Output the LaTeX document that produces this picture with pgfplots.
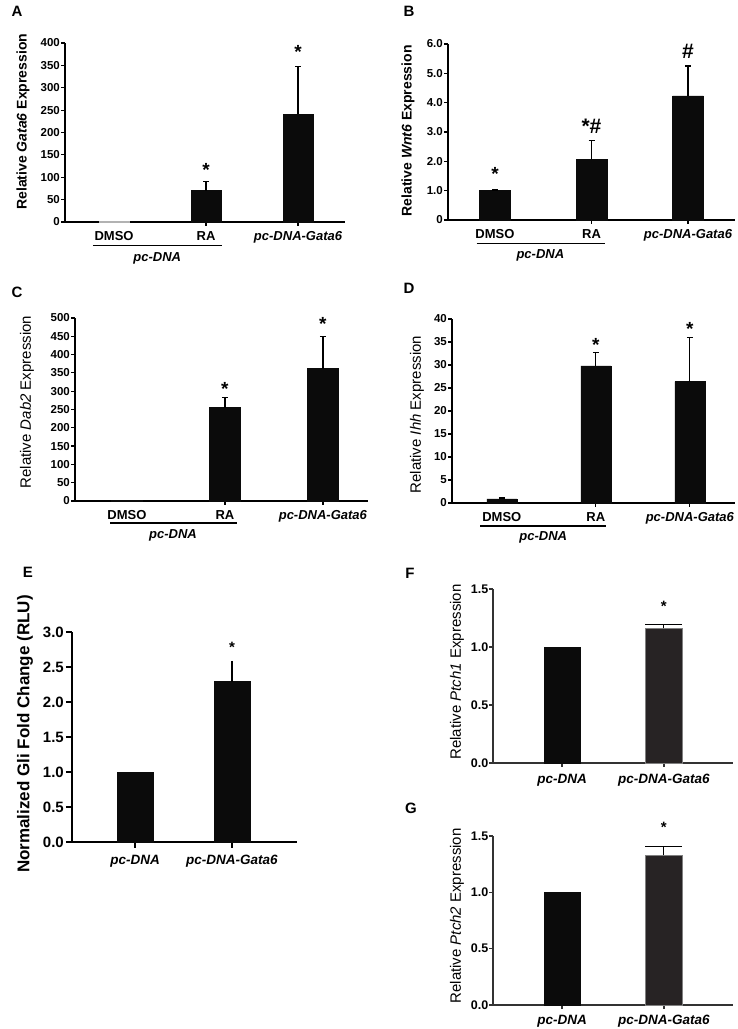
\documentclass[border=0pt]{standalone}
\usepackage{fontspec}
\setmainfont{Liberation Sans}
\usepackage{pgfplots}
\pgfplotsset{compat=1.18}

\definecolor{barblk}{HTML}{0B0B0B}
\definecolor{bargray}{HTML}{272324}
\definecolor{axgray}{HTML}{333333}
\newcommand{\fs}[1]{\fontsize{#1}{#1}\selectfont}

\pgfplotsset{
  % Excel-like panels A-D
  xl/.style={
    scale only axis, anchor=south west, clip=false,
    axis x line=bottom, axis y line=left,
    axis line style={-, line width=1.4pt},
    ymin=0,
    tick align=outside, major tick length=4pt,
    tick style={black, line width=1.2pt},
    /pgf/number format/assume math mode=true,
    yticklabel style={font=\bfseries\fs{11.5}, inner sep=1pt},
    xtick={1,2}, xticklabels={RA, \textit{pc-DNA-Gata6}},
    extra x ticks={0}, extra x tick labels={DMSO},
    extra x tick style={tick style={draw=none}},
    xticklabel style={font=\bfseries\fs{13}, anchor=base, yshift=-15pt},
    ylabel style={anchor=center},
    bar width=0.32,
  },
  % Prism-like panels E-G
  pr/.style={
    scale only axis, anchor=south west, clip=false,
    axis x line=bottom, axis y line=left,
    axis line style={-, line width=1.6pt, axgray},
    ymin=0, ymax=1.5,
    tick align=outside, major tick length=4pt,
    tick style={axgray, line width=1.4pt},
    ytick={0,0.5,1,1.5}, yticklabels={0.0,0.5,1.0,1.5},
    yticklabel style={font=\bfseries\fs{12.5}, inner sep=0.5pt},
    xtick={0,1}, xticklabels={\textit{pc-DNA}, \textit{pc-DNA-Gata6}},
    xticklabel style={font=\bfseries\fs{13.5}, anchor=base, yshift=-17pt},
    ylabel style={anchor=center},
    xmin=-0.68, xmax=1.68, bar width=0.36,
  },
  bars/.style={ybar, bar shift=0pt, fill=barblk, draw=barblk, line width=0.4pt},
  errs/.style={error bars/y dir=plus, error bars/y explicit,
    error bars/error bar style={line width=1.2pt, black},
    error bars/error mark options={rotate=90, mark size=#1, line width=1.2pt, black}},
  errs/.default=3pt,
}
\tikzset{
  star/.style={font=\bfseries\fs{19}, anchor=base, inner sep=0pt, yshift=-10.8pt},
  hash/.style={font=\bfseries\fs{21}, anchor=base, inner sep=0pt, yshift=-7pt},
  grp/.style={font=\bfseries\itshape\fs{13}, anchor=base, inner sep=0pt},
  letter/.style={font=\bfseries\fs{15}},
}

\begin{document}
\begin{tikzpicture}
\path[use as bounding box] (0pt,0pt) rectangle (737pt,1029pt);

\node[letter] at (17pt,1018pt) {A};
\node[letter] at (409pt,1018pt) {B};
\node[letter] at (17pt,737pt) {C};
\node[letter] at (409pt,741pt) {D};
\node[letter] at (28pt,457pt) {E};
\node[letter] at (410pt,456pt) {F};
\node[letter] at (411pt,221pt) {G};

% ---- A: Gata6
\begin{axis}[xl, at={(65pt,807pt)}, width=280pt, height=179pt,
  xmin=-0.533, xmax=2.51, ymax=400, ytick={0,50,...,400},
  ylabel={Relative \textit{Gata6} Expression},
  ylabel style={at={(axis description cs:-0.15,0.56)}, font=\bfseries\fs{14}}]
\addplot[bars, fill=gray!60, draw=gray!60] coordinates {(0,1.5)};
\addplot[bars, errs] coordinates {(1,70) +- (0,20) (2,241) +- (0,107)};
\node[star] at (axis cs:1,125) {*};
\node[star] at (axis cs:2,389) {*};
\draw[line width=1.4pt] ([yshift=-23.5pt]axis cs:-0.23,0) -- ([yshift=-23.5pt]axis cs:1.17,0);
\node[grp] at ([yshift=-39.5pt]axis cs:0.47,0) {pc-DNA};
\end{axis}

% ---- B: Wnt6
\begin{axis}[xl, at={(448pt,809pt)}, width=287pt, height=176pt,
  xmin=-0.487, xmax=2.487, ymax=6,
  ytick={0,1,...,6}, yticklabels={0,1.0,2.0,3.0,4.0,5.0,6.0},
  ylabel={Relative \textit{Wnt6} Expression},
  ylabel style={at={(axis description cs:-0.139,0.506)}, font=\bfseries\fs{14}}]
\addplot[bars, errs] coordinates {(0,1.0) +- (0,0.02) (1,2.07) +- (0,0.63) (2,4.23) +- (0,1.02)};
\node[star] at (axis cs:0,1.70) {*};
\node[hash] at (axis cs:1,3.20) {*\#};
\node[hash] at (axis cs:2,5.73) {\#};
\draw[line width=1.4pt] ([yshift=-23.5pt]axis cs:-0.19,0) -- ([yshift=-23.5pt]axis cs:1.14,0);
\node[grp] at ([yshift=-38.5pt]axis cs:0.47,0) {pc-DNA};
\end{axis}

% ---- C: Dab2
\begin{axis}[xl, at={(75pt,528pt)}, width=293pt, height=183pt,
  xmin=-0.53, xmax=2.46, ymax=500, ytick={0,50,...,500},
  ylabel={Relative \textit{Dab2} Expression},
  ylabel style={at={(axis description cs:-0.164,0.54)}, font=\fs{15}}]
\addplot[bars] coordinates {(0,1)};
\addplot[bars, errs] coordinates {(1,255) +- (0,27) (2,362) +- (0,87)};
\node[star] at (axis cs:1,317) {*};
\node[star] at (axis cs:2,495) {*};
\draw[line width=1.4pt] ([yshift=-22pt]axis cs:-0.17,0) -- ([yshift=-22pt]axis cs:1.12,0);
\node[grp] at ([yshift=-37.5pt]axis cs:0.47,0) {pc-DNA};
\end{axis}

% ---- D: Ihh
\begin{axis}[xl, at={(452pt,526pt)}, width=283pt, height=184pt,
  xmin=-0.53, xmax=2.48, ymax=40, ytick={0,5,...,40},
  ylabel={Relative \textit{Ihh} Expression},
  ylabel style={at={(axis description cs:-0.124,0.48)}, font=\fs{15}}]
\addplot[bars, errs] coordinates {(0,0.9) +- (0,0.2) (1,29.8) +- (0,3.0) (2,26.4) +- (0,9.6)};
\node[star] at (axis cs:1,35.2) {*};
\node[star] at (axis cs:2,38.7) {*};
\draw[line width=1.4pt] ([yshift=-23pt]axis cs:-0.23,0) -- ([yshift=-23pt]axis cs:1.11,0);
\node[grp] at ([yshift=-37.5pt]axis cs:0.44,0) {pc-DNA};
\end{axis}

% ---- E: Gli luciferase
\begin{axis}[pr, at={(72pt,187pt)}, width=225pt, height=210pt,
  axis line style={line width=2pt, black}, tick style={black, line width=1.8pt},
  major tick length=6pt,
  xmin=-0.65, xmax=1.67, bar width=0.37, ymax=3,
  ytick={0,0.5,...,3}, yticklabels={0.0,0.5,1.0,1.5,2.0,2.5,3.0},
  yticklabel style={font=\bfseries\fs{15}, inner sep=2pt},
  ylabel={Normalized Gli Fold Change (RLU)},
  ylabel style={at={(axis description cs:-0.209,0.514)}, font=\bfseries\fs{17}}]
\addplot[bars] coordinates {(0,1.0)};
\addplot[bars, errs=18pt, error bars/error bar style={line width=1.8pt}, error bars/error mark options={line width=1.8pt}] coordinates {(1,2.29) +- (0,0.27)};
\node[star, font=\bfseries\fs{15}, yshift=0.5pt] at (axis cs:1,2.86) {*};
\end{axis}

% ---- F: Ptch1
\begin{axis}[pr, at={(493pt,266pt)}, width=240pt, height=174pt,
  ylabel={Relative \textit{Ptch1} Expression},
  ylabel style={at={(axis description cs:-0.15,0.523)}, font=\fs{15}}]
\addplot[bars] coordinates {(0,1.0)};
\addplot[bars, fill=bargray, draw=gray, errs=18.5pt] coordinates {(1,1.16) +- (0,0.035)};
\node[star, font=\bfseries\fs{15}, yshift=2pt] at (axis cs:1,1.38) {*};
\end{axis}

% ---- G: Ptch2
\begin{axis}[pr, at={(493pt,24pt)}, width=240pt, height=169pt,
  xticklabel style={yshift=2pt},
  ylabel={Relative \textit{Ptch2} Expression},
  ylabel style={at={(axis description cs:-0.15,0.527)}, font=\fs{15}}]
\addplot[bars] coordinates {(0,1.0)};
\addplot[bars, fill=bargray, draw=gray, errs=18.5pt] coordinates {(1,1.33) +- (0,0.08)};
\node[star, font=\bfseries\fs{15}, yshift=2pt] at (axis cs:1,1.61) {*};
\end{axis}
\end{tikzpicture}
\end{document}
